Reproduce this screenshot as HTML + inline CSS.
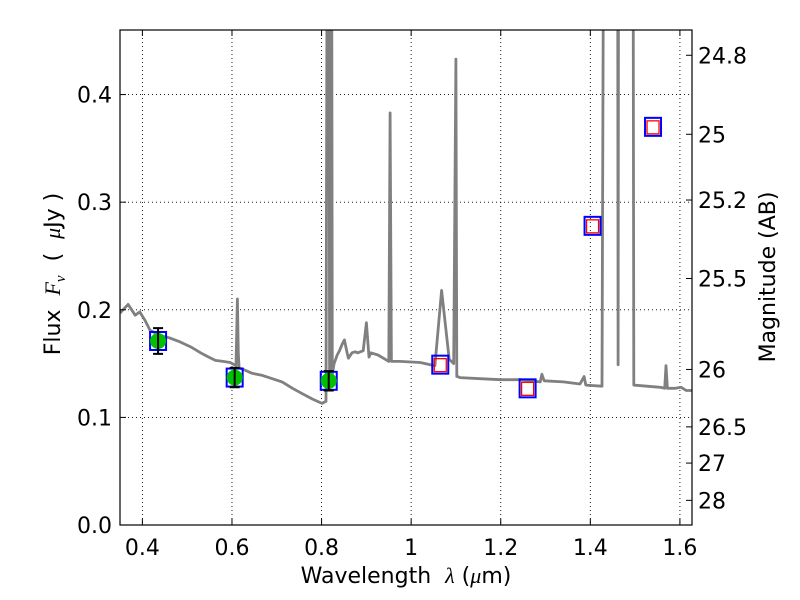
<!DOCTYPE html>
<html><head><meta charset="utf-8"><style>
html,body{margin:0;padding:0;background:#fff;}
svg{display:block;font-family:"DejaVu Sans","Liberation Sans",sans-serif;}
</style></head><body>
<svg id="chart" width="800" height="600" viewBox="0 0 800 600">
<defs><clipPath id="pc"><rect x="120" y="30" width="572" height="495"/></clipPath></defs>
<rect x="0" y="0" width="800" height="600" fill="#fff"/>
<g id="grid"></g>
<g id="spec" clip-path="url(#pc)"></g>
<g id="pts" clip-path="url(#pc)"></g>
<rect x="120" y="30" width="572" height="495" fill="none" stroke="#000" stroke-width="1.2"/>
<g id="axes"></g>
<text x="406" y="583" font-size="22" text-anchor="middle" xml:space="preserve">Wavelength  <tspan font-family="Liberation Serif, serif" font-style="italic">λ</tspan> (<tspan font-family="Liberation Serif, serif" font-style="italic">μ</tspan>m)</text>
<text transform="translate(60,274) rotate(-90)" font-size="22" text-anchor="middle" xml:space="preserve">Flux  <tspan font-family="Liberation Serif, serif" font-style="italic">F<tspan font-size="15" dy="5">ν</tspan></tspan><tspan dy="-5">  (  </tspan><tspan font-family="Liberation Serif, serif" font-style="italic">μ</tspan>Jy )</text>
<text transform="translate(775,277) rotate(-90)" font-size="22" text-anchor="middle">Magnitude (AB)</text>
</svg>
<script>
const specLam = [0.35,0.368,0.384,0.394,0.406,0.417,0.44,0.46,0.485,0.51,0.53,0.548,0.563,0.58,0.596,0.609,0.612,0.614,0.616,0.623,0.645,0.668,0.69,0.712,0.735,0.757,0.78,0.801,0.81,0.815,0.818,0.821,0.824,0.828,0.835,0.84,0.846,0.851,0.857,0.86,0.868,0.875,0.881,0.893,0.9,0.906,0.91,0.926,0.95,0.953,0.956,0.975,1.02,1.053,1.068,1.085,1.095,1.1,1.102,1.104,1.109,1.154,1.2,1.243,1.288,1.292,1.297,1.34,1.377,1.386,1.39,1.426,1.433,1.46,1.462,1.464,1.466,1.494,1.497,1.556,1.566,1.569,1.572,1.59,1.603,1.614,1.627];
const specFlux = [0.197,0.205,0.195,0.198,0.19,0.181,0.176,0.174,0.17,0.165,0.16,0.156,0.153,0.152,0.151,0.148,0.21,0.16,0.146,0.145,0.141,0.139,0.136,0.133,0.127,0.122,0.117,0.113,0.115,1.0,0.13,1.0,0.14,0.15,0.158,0.162,0.168,0.172,0.16,0.155,0.16,0.161,0.16,0.162,0.188,0.156,0.16,0.158,0.152,0.383,0.152,0.152,0.151,0.148,0.218,0.154,0.15,0.433,0.138,0.138,0.137,0.136,0.135,0.135,0.133,0.14,0.134,0.133,0.131,0.138,0.13,0.129,1.0,1.0,0.149,1.0,1.0,1.0,0.13,0.128,0.127,0.148,0.127,0.127,0.128,0.125,0.125];
const detLam = [0.435,0.606,0.816];
const detFlux = [0.171,0.137,0.134];
const detErr = [0.012,0.009,0.009];
const boxLam = [0.435,0.606,0.816,1.065,1.26,1.405,1.54];
const boxFlux = [0.171,0.137,0.134,0.149,0.127,0.278,0.37];
const modelLam = [1.065,1.26,1.405,1.54];
const modelFlux = [0.149,0.127,0.278,0.37];
const xTicks = [0.4,0.6,0.8,1.0,1.2,1.4,1.6];
const xTickLabels = ["0.4","0.6","0.8","1","1.2","1.4","1.6"];
const yTicks = [0,0.1,0.2,0.3,0.4];
const yTickLabels = ["0.0","0.1","0.2","0.3","0.4"];
const magTicks = [24.8,25,25.2,25.5,26,26.5,27,28];
const magTickLabels = ["24.8","25","25.2","25.5","26","26.5","27","28"];

const X0=120,X1=692,Y0=525,Y1=30,xmin=0.35,xmax=1.627,ymin=0,ymax=0.46;
const sx=v=>X0+(v-xmin)/(xmax-xmin)*(X1-X0);
const sy=v=>Y0-(v-ymin)/(ymax-ymin)*(Y0-Y1);
const NS="http://www.w3.org/2000/svg";
function mk(tag,attrs,parent){const e=document.createElementNS(NS,tag);for(const k in attrs)e.setAttribute(k,attrs[k]);parent.appendChild(e);return e;}
const grid=document.getElementById('grid'),axes=document.getElementById('axes'),spec=document.getElementById('spec'),pts=document.getElementById('pts');

xTicks.forEach((t,i)=>{
  const x=sx(t);
  const g=mk('line',{x1:x,x2:x,y1:Y1,y2:Y0,stroke:'#000','stroke-width':0.9,'stroke-dasharray':'1,3'},grid);
  
  
  const a=mk('line',{x1:x,x2:x,y1:Y0,y2:Y0-6,stroke:'#000','stroke-width':1},axes);
  
  
  const b=mk('line',{x1:x,x2:x,y1:Y1,y2:Y1+6,stroke:'#000','stroke-width':1},axes);
  
  
  const l=mk('text',{x:x,y:Y0+30,'font-size':22,'text-anchor':'middle'},axes);
  l.textContent=xTickLabels[i];
  
  
});
yTicks.forEach((t,i)=>{
  const y=sy(t);
  const g=mk('line',{x1:X0,x2:X1,y1:y,y2:y,stroke:'#000','stroke-width':0.9,'stroke-dasharray':'1,3'},grid);
  
  
  const a=mk('line',{x1:X0,x2:X0+6,y1:y,y2:y,stroke:'#000','stroke-width':1},axes);
  
  
  const l=mk('text',{x:X0-8,y:y+8,'font-size':22,'text-anchor':'end'},axes);
  l.textContent=yTickLabels[i];
  
  
});
magTicks.forEach((m,i)=>{
  const f=Math.pow(10,(23.9-m)/2.5);
  const y=sy(f);
  const a=mk('line',{x1:X1-6,x2:X1,y1:y,y2:y,stroke:'#000','stroke-width':1},axes);
  
  
  const l=mk('text',{x:X1+6,y:y+8,'font-size':22,'text-anchor':'start'},axes);
  l.textContent=magTickLabels[i];
  
  
});

const d=specLam.map((l,i)=>(i?'L':'M')+sx(l).toFixed(1)+','+sy(specFlux[i]).toFixed(1)).join(' ');
const p=mk('path',{d:d,fill:'none',stroke:'#808080','stroke-width':2.8,'stroke-linejoin':'round'},spec);



boxLam.forEach((l,i)=>{
  const x=sx(l),y=sy(boxFlux[i]);
  const r=mk('rect',{x:x-8,y:y-9,width:16,height:18,fill:'none',stroke:'#0000ff','stroke-width':2},pts);
  
  
});
modelLam.forEach((l,i)=>{
  const x=sx(l),y=sy(modelFlux[i]);
  const r=mk('rect',{x:x-6,y:y-6,width:12,height:13,fill:'none',stroke:'#ff0000','stroke-width':1.3},pts);
  
  
});
detLam.forEach((l,i)=>{
  const x=sx(l),y=sy(detFlux[i]);
  const c=mk('circle',{cx:x,cy:y,r:8,fill:'#00c000',stroke:'none'},pts);
  
  
  const y1=sy(detFlux[i]+detErr[i]),y2=sy(detFlux[i]-detErr[i]);
  const e=mk('path',{d:`M${x},${y1}L${x},${y2}M${x-5},${y1}L${x+5},${y1}M${x-5},${y2}L${x+5},${y2}`,stroke:'#000','stroke-width':2,fill:'none'},pts);
  
  
});
</script>
</body></html>
